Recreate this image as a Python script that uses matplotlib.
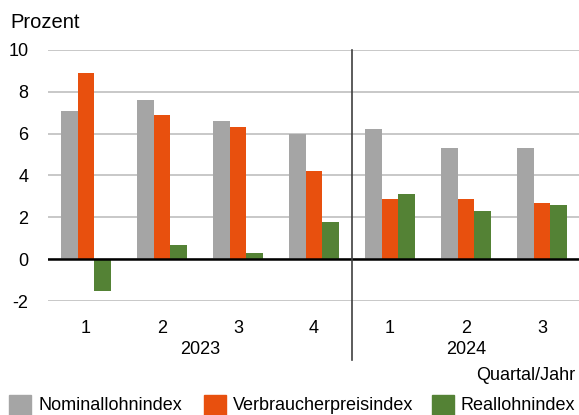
import numpy as np
import matplotlib.pyplot as plt
from matplotlib.patches import Rectangle

plt.rcParams['font.family'] = ['Liberation Sans', 'DejaVu Sans']
plt.rcParams['axes.unicode_minus'] = False

quarters = ['1', '2', '3', '4', '1', '2', '3']
years = ['2023', '2024']
nominal = [7.1, 7.6, 6.6, 6.0, 6.2, 5.3, 5.3]
cpi = [8.9, 6.9, 6.3, 4.2, 2.9, 2.9, 2.7]
real = [-1.5, 0.7, 0.3, 1.8, 3.1, 2.3, 2.6]
series = ['Nominallohnindex', 'Verbraucherpreisindex', 'Reallohnindex']
colors = ['#A5A5A5', '#E8500E', '#548235']

W, H = 579, 415
fig = plt.figure(figsize=(W / 100, H / 100), dpi=100)
ax = fig.add_axes([48 / W, 1 - 301 / H, 532 / W, 251 / H])

x = np.arange(len(quarters))
w = 0.22
for i, (vals, c) in enumerate(zip([nominal, cpi, real], colors)):
    ax.bar(x + (i - 1) * w, vals, width=w, color=c, zorder=3)

ax.set_xlim(-0.5, len(quarters) - 0.5)
ax.set_ylim(-2, 10)
ax.set_yticks(range(-2, 11, 2))
ax.yaxis.grid(True, color='#BFBFBF', lw=1.2, zorder=0)
ax.axhline(0, color='black', lw=1.8, zorder=4)
for s in ax.spines.values():
    s.set_visible(False)
ax.tick_params(axis='both', length=0, labelsize=13)
ax.tick_params(axis='y', pad=14)
ax.set_xticks(x)
ax.set_xticklabels(quarters)
ax.tick_params(axis='x', pad=14)

# divider between years
ax.axvline(3.5, ymin=-59 / 251, ymax=1, color='#404040', lw=1.2, clip_on=False, zorder=5)

# year labels
ax.text(1.5, -0.195, years[0], transform=ax.get_xaxis_transform(), ha='center', va='center', fontsize=13)
ax.text(5.0, -0.195, years[1], transform=ax.get_xaxis_transform(), ha='center', va='center', fontsize=13)
fig.text(575 / W, 1 - 375 / H, 'Quartal/Jahr', ha='right', va='center', fontsize=13)
fig.text(10 / W, 1 - 23 / H, 'Prozent', ha='left', va='center', fontsize=14.5)

# legend drawn by hand along the bottom edge
sq_x = [9, 204, 432]
txt_x = [38, 233, 461]
for sx, tx, c, name in zip(sq_x, txt_x, colors, series):
    fig.patches.append(Rectangle((sx / W, 1 - 415 / H), 22 / W, 20 / H, transform=fig.transFigure,
                                 color=c, clip_on=False))
    fig.text(tx / W, 1 - 410 / H, name, ha='left', va='baseline', fontsize=13)

fig.savefig('out.png', dpi=100)
